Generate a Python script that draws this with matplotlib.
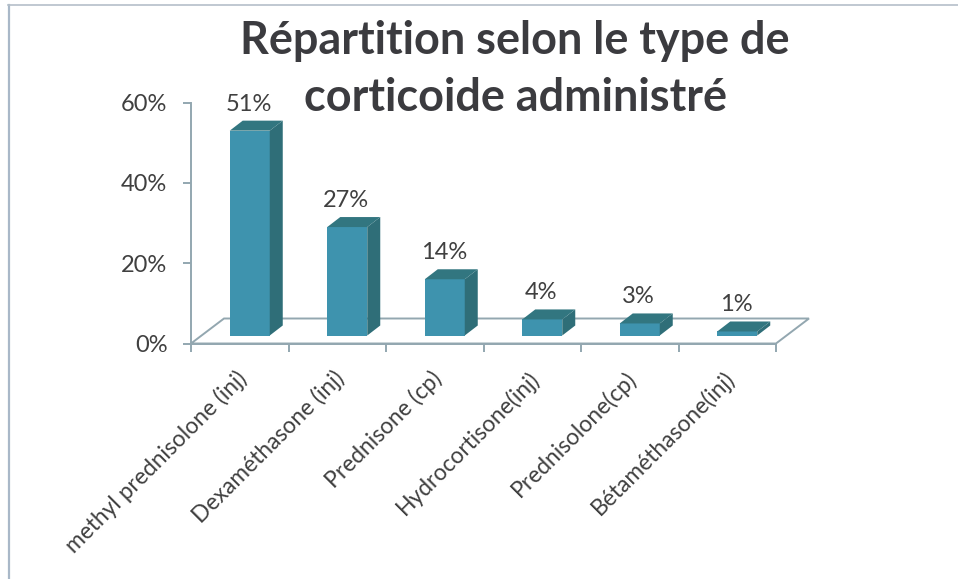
import matplotlib.pyplot as plt
from matplotlib.lines import Line2D
from matplotlib.patches import Polygon

categories = ["methyl prednisolone (inj)", "Dexaméthasone (inj)", "Prednisone (cp)",
              "Hydrocortisone(inj)", "Prednisolone(cp)", "Bétaméthasone(inj)"]
values = [51, 27, 14, 4, 3, 1]
labels = ["51%", "27%", "14%", "4%", "3%", "1%"]
y_ticks = [0, 20, 40, 60]
y_tick_labels = ["0%", "20%", "40%", "60%"]

W, H = 958, 579
FRONT = "#3e93ae"
SIDE = "#2f6e78"
TOP = "#327680"
AXIS = "#93a7b0"
TEXT = "#404040"

plt.rcParams["font.family"] = ["Lato", "DejaVu Sans"]

fig = plt.figure(figsize=(W / 100, H / 100), dpi=100)
ax = fig.add_axes([191 / W, 1 - 343.5 / H, 585 / W, 241 / H])
ax.set_xlim(0, 6)
ax.set_ylim(0, 60)

# scale of one pixel in data units, the fake 3d depth is given in pixels
px_x = 6 / 585
px_y = 60 / 241
depth_x = 13 * px_x
depth_y = 10 * px_y
floor = 8 * px_y
bar_w = 40 * px_x

# floor of the 3d chart
ax.add_patch(Polygon([(0, 0), (33 * px_x, 25 * px_y), (6 + 33 * px_x, 25 * px_y), (6, 0)],
                     closed=True, fill=False, edgecolor=AXIS, linewidth=1.4, clip_on=False, zorder=1))

for i, (v, lab) in enumerate(zip(values, labels)):
    x0 = i + 0.5 + 10 * px_x - bar_w / 2
    x1 = x0 + bar_w
    y0 = floor
    y1 = floor + v
    ax.bar(x0, v, width=bar_w, bottom=y0, align="edge", color=FRONT, zorder=3)
    ax.add_patch(Polygon([(x1, y0), (x1 + depth_x, y0 + depth_y), (x1 + depth_x, y1 + depth_y), (x1, y1)],
                         closed=True, facecolor=SIDE, edgecolor="none", zorder=3, clip_on=False))
    ax.add_patch(Polygon([(x0, y1), (x0 + depth_x, y1 + depth_y), (x1 + depth_x, y1 + depth_y), (x1, y1)],
                         closed=True, facecolor=TOP, edgecolor="none", zorder=3, clip_on=False))
    ax.text((x0 + x1) / 2 - 1 * px_x, y1 + 26.5 * px_y, lab, ha="center", va="center",
            fontsize=17, color=TEXT, zorder=4)

for name in ["top", "right"]:
    ax.spines[name].set_visible(False)
for name in ["left", "bottom"]:
    ax.spines[name].set_color(AXIS)
    ax.spines[name].set_linewidth(1.4)

ax.set_yticks(y_ticks)
ax.set_yticklabels(y_tick_labels, fontsize=17, color=TEXT)
ax.set_xticks(range(7))
ax.set_xticklabels([])
ax.set_xticks([i + 0.5 - 4 * px_x for i in range(6)], minor=True)
ax.set_xticklabels(categories, minor=True, rotation=45, ha="right", rotation_mode="anchor",
                   fontsize=16.4, color=TEXT)
ax.tick_params(axis="both", which="major", color=AXIS, width=1.4, length=6)
ax.tick_params(axis="x", which="minor", length=0, pad=17)
ax.tick_params(axis="y", pad=11)

fig.text(515 / W, 1 - 41 / H, "Répartition selon le type de", ha="center", va="center",
         fontsize=32.4, fontweight="bold", color="#3b3b3f")
fig.text(515 / W, 1 - 98 / H, "corticoide administré", ha="center", va="center",
         fontsize=32.4, fontweight="bold", color="#3b3b3f")

# border of the chart frame, cut off on the scan
fig.add_artist(Line2D([8.5 / W, 8.5 / W], [0, 1 - 5 / H], color="#a9b8c8", linewidth=1.6))
fig.add_artist(Line2D([8 / W, 1], [1 - 5 / H, 1 - 5 / H], color="#b5bfc9", linewidth=1.2))

fig.savefig("out.png", dpi=100)
